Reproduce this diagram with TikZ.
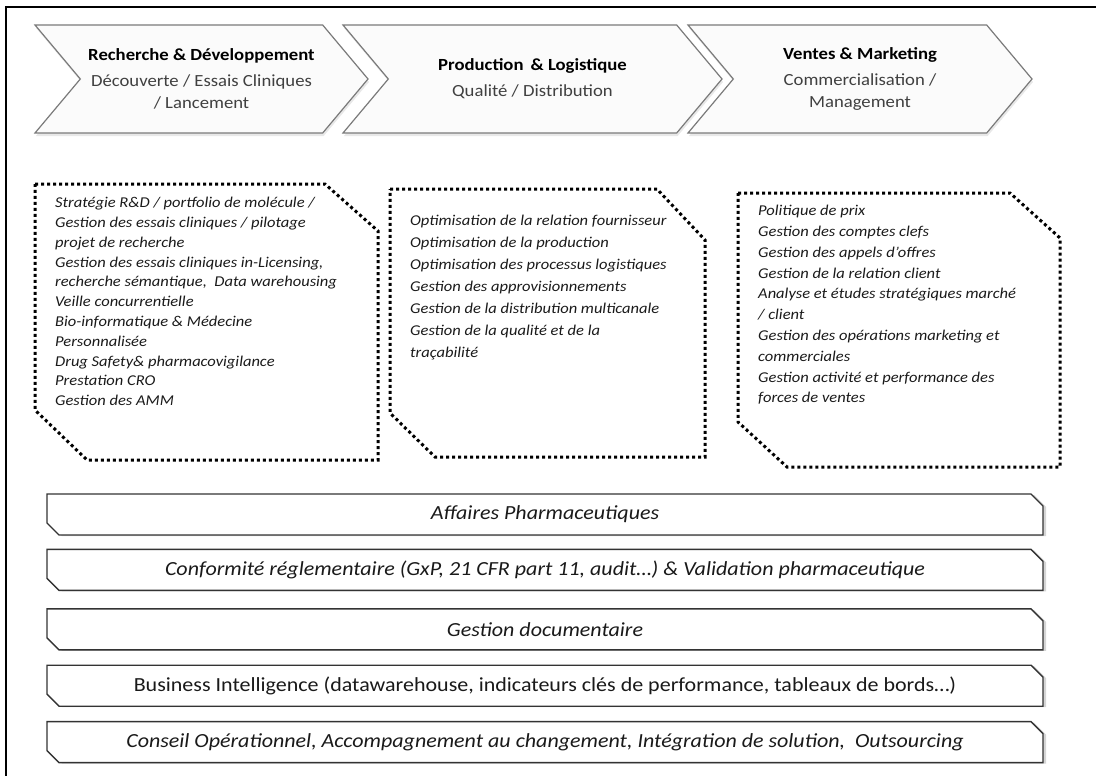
\documentclass[tikz,border=0pt]{standalone}
\usepackage{fontspec}
\setmainfont{Carlito}[FakeStretch=1.1]
\usetikzlibrary{positioning, shapes.symbols, shapes.misc, shadows}
\definecolor{chevfill}{HTML}{FBFBFB}
\definecolor{chevline}{HTML}{7A7A7A}
\definecolor{subgray}{HTML}{404040}
\definecolor{boxtext}{HTML}{1A1A1A}
\tikzstyle{chevron} = [signal, signal from=west, signal to=east, signal pointer angle=100,
draw=chevline, fill=chevfill, line width=1.2pt, minimum height=108pt, inner sep=0pt,
align=center, font=\fontsize{17}{22}\selectfont,
drop shadow={shadow xshift=1pt, shadow yshift=-3pt, fill=gray!35}]
\tikzstyle{dotbox} = [draw=black, line width=3pt, dash pattern=on 3pt off 3pt]
\tikzstyle{boxlist} = [anchor=north west, inner sep=0pt, align=left, text=boxtext]
\tikzstyle{bar} = [chamfered rectangle, chamfered rectangle corners={north east, south west},
chamfered rectangle xsep=6pt, chamfered rectangle ysep=6pt, draw=black!80, line width=1.4pt,
fill=white, minimum width=996pt, minimum height=41pt, inner sep=0pt, text=boxtext,
font=\fontsize{20}{22}\selectfont\itshape,
drop shadow={shadow xshift=3pt, shadow yshift=-1pt, fill=gray!65}]

\begin{document}
\begin{tikzpicture}[x=1pt, y=-1pt]
    \useasboundingbox (0,0) rectangle (1096,776);
    % frame
    \draw[line width=2pt] (1096,7) -- (6,7) -- (6,776);

    % value chain
    \node (RD) [chevron, minimum width=333pt] at (201.5,79) {\textbf{Recherche \& Développement}\\[4pt]
        {\color{subgray}Découverte / Essais Cliniques}\\ {\color{subgray}/ Lancement}};
    \node (Prod) [chevron, minimum width=379pt] at (532.5,79) {\textbf{Production \,\& Logistique}\\[4pt]
        {\color{subgray}Qualité / Distribution}};
    \node (Ventes) [chevron, minimum width=344pt] at (860,79) {\textbf{Ventes \& Marketing}\\[4pt]
        {\color{subgray}Commercialisation /}\\ {\color{subgray}Management}};

    % activity boxes
    \draw[dotbox] (35,184) -- (325,184) -- (378,231) -- (378,460) -- (87,460) -- (35,410) -- cycle;
    \draw[dotbox] (390,189) -- (657,189) -- (705,240) -- (705,457) -- (435,457) -- (390,413) -- cycle;
    \draw[dotbox] (738,193) -- (1010,193) -- (1060,238) -- (1060,467) -- (787,467) -- (738,422) -- cycle;

    \node (RDlist) [boxlist, font=\fontsize{15}{19.8}\selectfont\itshape] at (55,197) {Stratégie R\&D / portfolio de molécule /\\
        Gestion des essais cliniques / pilotage\\ projet de recherche\\
        Gestion des essais cliniques in-Licensing,\\ recherche sémantique, \ Data warehousing\\
        Veille concurrentielle\\ Bio-informatique \& Médecine\\ Personnalisée\\
        Drug Safety\& pharmacovigilance\\ Prestation CRO\\ Gestion des AMM};
    \node (Prodlist) [boxlist, font=\fontsize{15}{22}\selectfont\itshape] at (410,215) {Optimisation de la relation fournisseur\\
        Optimisation de la production\\ Optimisation des processus logistiques\\
        Gestion des approvisionnements\\ Gestion de la distribution multicanale\\
        Gestion de la qualité et de la\\ traçabilité};
    \node (Venteslist) [boxlist, font=\fontsize{15}{20.8}\selectfont\itshape] at (758,205) {Politique de prix\\
        Gestion des comptes clefs\\ Gestion des appels d’offres\\ Gestion de la relation client\\
        Analyse et études stratégiques marché\\ / client\\
        Gestion des opérations marketing et\\ commerciales\\
        Gestion activité et performance des\\ forces de ventes};

    % transverse offers
    \node (Affaires) [bar] at (545,514.5) {Affaires Pharmaceutiques};
    \node (Conformite) [bar, below=13pt of Affaires] {Conformité réglementaire (GxP, 21 CFR part 11, audit…) \& Validation pharmaceutique};
    \node (GED) [bar, below=17pt of Conformite] {Gestion documentaire};
    \node (BI) [bar, below=14pt of GED, font=\fontsize{20}{22}\selectfont\upshape] {Business Intelligence (datawarehouse, indicateurs clés de performance, tableaux de bords…)};
    \node (Conseil) [bar, below=14pt of BI] {Conseil Opérationnel, Accompagnement au changement, Intégration de solution, \ Outsourcing};
\end{tikzpicture}
\end{document}
